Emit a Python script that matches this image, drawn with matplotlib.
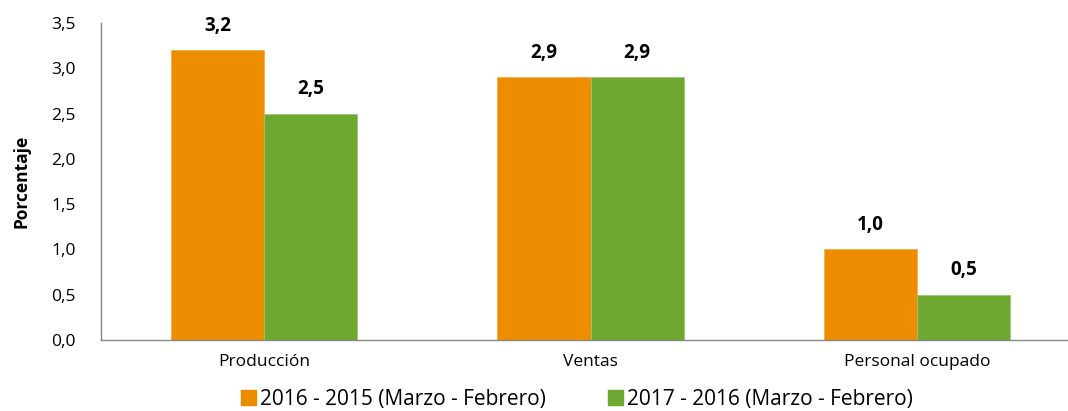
import numpy as np
from matplotlib import pyplot as plt
from matplotlib.patches import Patch

# Data
categories = ["Producción", "Ventas", "Personal ocupado"]
series_names = ["2016 - 2015 (Marzo - Febrero)", "2017 - 2016 (Marzo - Febrero)"]
vals_2016 = [3.2, 2.9, 1.0]
vals_2017 = [2.5, 2.9, 0.5]
yticks = [0.0, 0.5, 1.0, 1.5, 2.0, 2.5, 3.0, 3.5]

orange = "#EE8C00"
green = "#6FA830"

plt.rcParams["font.family"] = ["Open Sans", "DejaVu Sans"]

fig = plt.figure(figsize=(10.68, 4.11), dpi=100)
ax = fig.add_axes([101 / 1068, 1 - 340 / 411, 979 / 1068, 317 / 411])

x = np.arange(len(categories))
w = 0.285
b1 = ax.bar(x - w / 2, vals_2016, w, color=orange, edgecolor="#F5B050", linewidth=0.6)
b2 = ax.bar(x + w / 2, vals_2017, w, color=green, edgecolor="#9CC870", linewidth=0.6)

fmt = lambda v: ("%.1f" % v).replace(".", ",")
for bars, vals in ((b1, vals_2016), (b2, vals_2017)):
    for bar, v in zip(bars, vals):
        ax.text(bar.get_x() + bar.get_width() / 2, v + 0.16, fmt(v),
                ha="center", va="bottom", fontsize=13.5, fontweight="bold")

ax.set_xlim(-0.5, 2.5)
ax.set_ylim(0, 3.5)
ax.set_yticks(yticks)
ax.set_yticklabels([fmt(t) for t in yticks], fontsize=12.5)
ax.set_xticks(x)
ax.set_xticklabels(categories, fontsize=12.5)
ax.tick_params(axis="both", length=0)
ax.tick_params(axis="y", pad=18)
ax.tick_params(axis="x", pad=10)
ax.set_ylabel("Porcentaje", fontsize=12.5, fontweight="bold")
ax.yaxis.set_label_coords(-70 / 979, 0.5)

for s in ("top", "right"):
    ax.spines[s].set_visible(False)
for s in ("left", "bottom"):
    ax.spines[s].set_color("#888888")
    ax.spines[s].set_linewidth(1)

handles = [Patch(color=orange), Patch(color=green)]
fig.legend(handles, series_names, loc="center", bbox_to_anchor=(577 / 1068, 1 - 399 / 411),
           ncol=2, frameon=False, fontsize=15, handlelength=0.7, handleheight=0.7,
           handletextpad=0.2, columnspacing=3.0, borderpad=0)

fig.savefig("out.png", dpi=100)
